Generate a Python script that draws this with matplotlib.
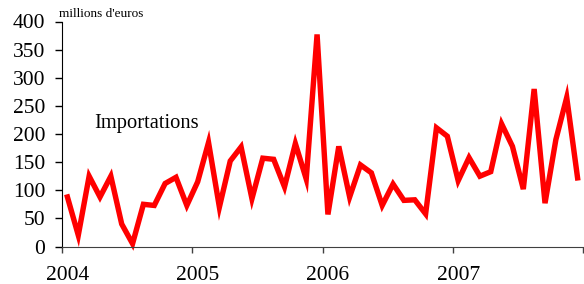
import matplotlib
matplotlib.use("Agg")
import matplotlib.pyplot as plt
import numpy as np

years = ["2004", "2005", "2006", "2007"]
values = [88, 20, 125, 88, 125, 40, 5, 75, 73, 112, 123, 73,
          115, 185, 70, 152, 177, 85, 157, 155, 106, 183, 120, 377,
          57, 178, 88, 145, 131, 73, 111, 82, 83, 58, 211, 196,
          117, 158, 125, 133, 218, 178, 102, 280, 77, 190, 265, 122]
yticks = [0, 50, 100, 150, 200, 250, 300, 350, 400]

plt.rcParams['font.family'] = ['Liberation Serif', 'DejaVu Serif']

fig = plt.figure(figsize=(5.84, 2.84), dpi=100)
ax = fig.add_axes([62/584, (284-246.5)/284, 521/584, 225/284])

months = np.arange(len(values)) + 0.5
ax.plot(months, values, color='#ff0000', lw=3.9, solid_joinstyle='miter', clip_on=False)

ax.set_xlim(0, 48)
ax.set_ylim(0, 400)
ax.set_yticks(yticks)
ax.set_yticklabels([str(v) for v in yticks], fontsize=15.5)
ax.tick_params(axis='y', length=5, width=1, pad=7, color='black')

ax.set_xticks([0, 12, 24, 36, 48])
ax.set_xticklabels([])
ax.tick_params(axis='x', which='major', length=4.3, width=1, color='#404040')
ax.set_xticks([0.5, 12.5, 24.5, 36.5], minor=True)
ax.set_xticklabels(years, minor=True, fontsize=15.5)
ax.tick_params(axis='x', which='minor', length=0, pad=14.2)

for s in ['top', 'right']:
    ax.spines[s].set_visible(False)
ax.spines['left'].set_color('black')
ax.spines['bottom'].set_color('#404040')

fig.text(59/584, 1 - 17/284, "millions d'euros", fontsize=9.5, ha='left', va='baseline')
fig.text(94/584, 1 - 128/284, "Importations", fontsize=14.8, ha='left', va='baseline')

fig.savefig("out.png", dpi=100)
